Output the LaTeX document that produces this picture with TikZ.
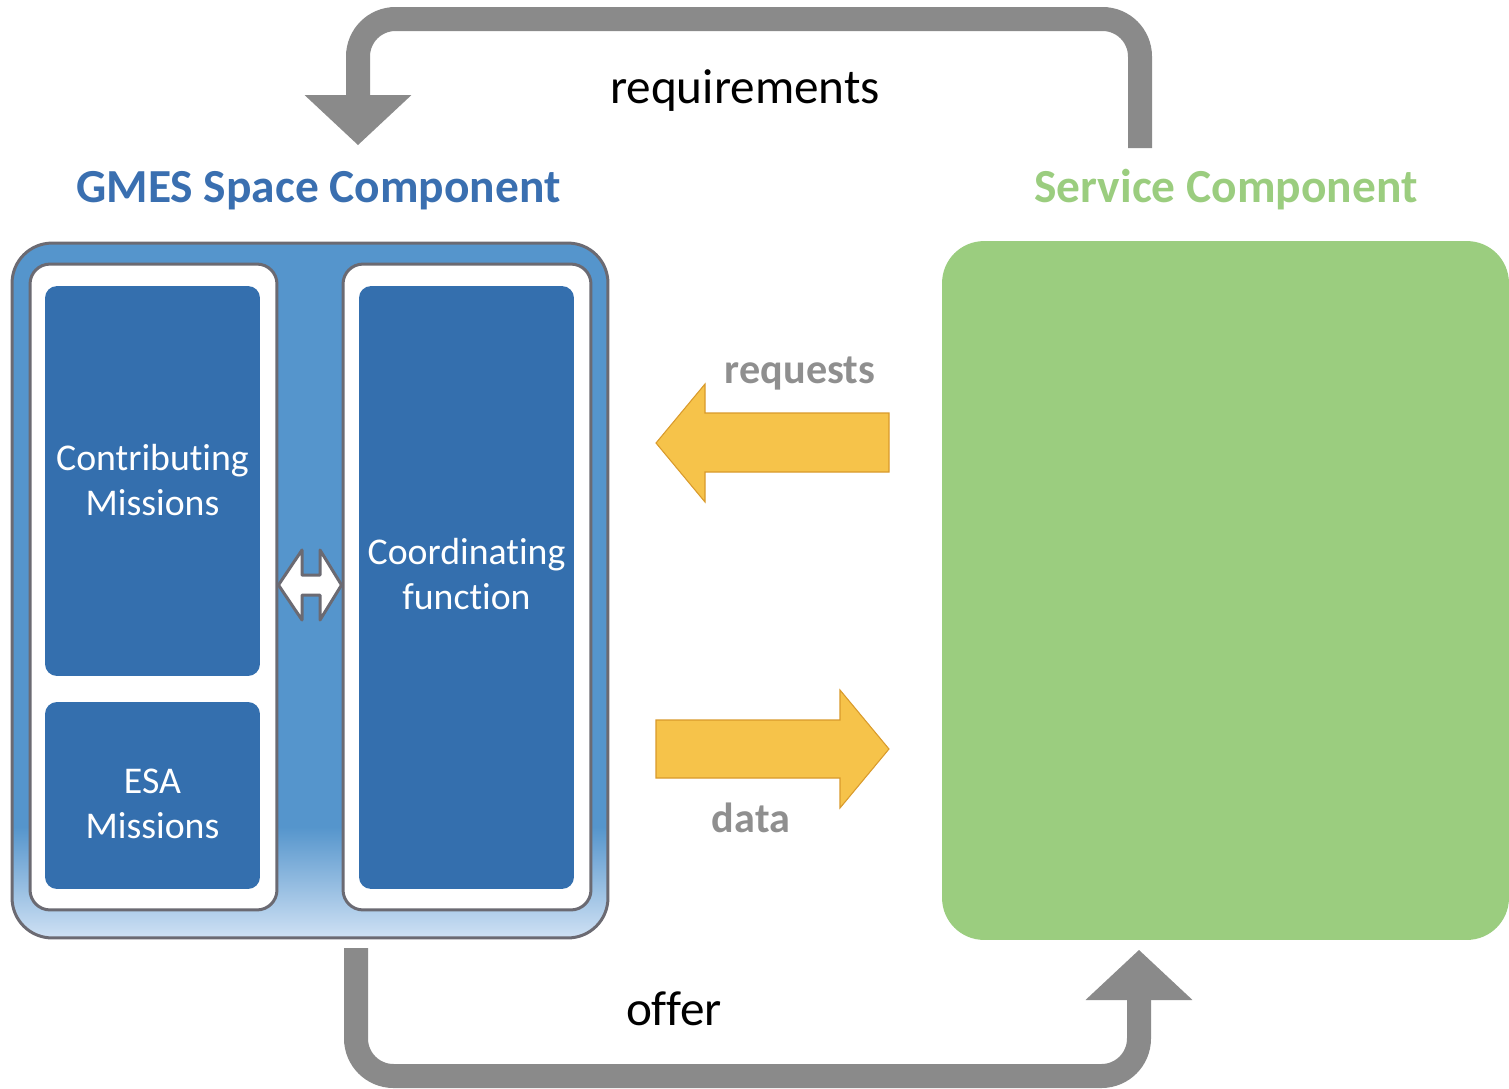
\documentclass[tikz,border=0pt]{standalone}
\usepackage{fontspec}
\setmainfont{Carlito}[Ligatures={NoCommon,NoContextual}]
\usetikzlibrary{positioning,arrows.meta}

\definecolor{framegray}{HTML}{6B6A72}
\definecolor{gmesmid}{HTML}{5595CC}
\definecolor{gmeslight}{HTML}{CFE1F4}
\definecolor{missionblue}{HTML}{346FAE}
\definecolor{gmestitle}{HTML}{3A6FB0}
\definecolor{servicegreen}{HTML}{9BCD7F}
\definecolor{loopgray}{HTML}{8A8A8A}
\definecolor{labelgray}{HTML}{8F8F8F}
\definecolor{flowyellow}{HTML}{F6C34A}
\definecolor{flowedge}{HTML}{D99A2B}

\pgfdeclareverticalshading{gmesshade}{100bp}{color(0bp)=(gmeslight); color(25bp)=(gmeslight); color(33bp)=(gmesmid); color(75bp)=(gmesmid); color(100bp)=(gmesmid)}

\newcommand{\missionfont}{\fontsize{21.5}{25.5}\selectfont}
\newcommand{\titlefont}{\fontsize{27}{32}\selectfont\bfseries}
\newcommand{\loopfont}{\fontsize{28}{32}\selectfont}
\newcommand{\flowfont}{\fontsize{24}{28}\selectfont\bfseries}

\tikzset{
  gmesbox/.style={draw=framegray, line width=0.06cm, rounded corners=0.8cm, shade, shading=gmesshade},
  panel/.style={draw=framegray, line width=0.06cm, fill=white, rounded corners=0.4cm},
  mission/.style={fill=missionblue, rounded corners=0.24cm, inner sep=0pt},
  missiontext/.style={text=white, font=\missionfont, align=center, inner sep=0pt},
  servicebox/.style={fill=servicegreen, rounded corners=0.84cm},
  title/.style={font=\titlefont, anchor=base},
  looplabel/.style={font=\loopfont, anchor=base},
  flowlabel/.style={font=\flowfont, text=labelgray, anchor=base},
  loop/.style={draw=loopgray, line width=0.48cm, rounded corners=0.75cm, -{Triangle[width=2.14cm,length=1cm,line width=0pt]}},
  flow/.style={fill=flowyellow, draw=flowedge, line width=0.6pt},
  swap/.style={fill=white, draw=framegray, line width=0.06cm, line join=round}
}

\begin{document}
\begin{tikzpicture}[x=0.02cm, y=-0.02cm]
\useasboundingbox (0,0) rectangle (1509,1089);

%Boxes
\node[gmesbox, minimum width=11.92cm, minimum height=13.9cm]   (gmes)    at (310,590.5) {};
\node[panel, minimum width=4.94cm, minimum height=12.92cm]     (lpanel)  at (153.5,587) {};
\node[panel, minimum width=4.96cm, minimum height=12.92cm]     (rpanel)  at (467,587) {};
\node[mission, minimum width=4.3cm, minimum height=7.8cm]      (contrib) at (152.5,481) {};
\node[mission, minimum width=4.3cm, minimum height=3.74cm]     (esa)     at (152.5,795.5) {};
\node[mission, minimum width=4.3cm, minimum height=12.06cm]    (coord)   at (466.5,587.5) {};
\node[servicebox, minimum width=11.34cm, minimum height=13.98cm] (service) at (1225.5,590.5) {};

%Box texts
\node[missiontext, yshift=0.02cm]  (contribtext) at (contrib) {Contributing\\Missions};
\node[missiontext, yshift=-0.16cm] (esatext)     at (esa)     {ESA\\Missions};
\node[missiontext, yshift=0.27cm]  (coordtext)   at (coord)   {Coordinating\\function};

%Titles
\node[title, text=gmestitle]    (gmestitle)    at (318.5,202) {GMES Space Component};
\node[title, text=servicegreen] (servicetitle) at (1226,202)  {Service Component};

%Labels
\node[looplabel] (requirements) at (745,103)  {requirements};
\node[looplabel] (offer)        at (674,1025) {offer};
\node[flowlabel] (requests)     at (800,383)  {requests};
\node[flowlabel] (data)         at (751,832)  {data};

%Loops
\coordinate (reqstart) at (1140,148);
\coordinate (reqend)   at (358,145);
\coordinate (offstart) at (356,948);
\coordinate (offend)   at (1139,950);
\draw[loop] (reqstart) -- (1140,19) -- (358,19) -- (reqend);
\draw[loop] (offstart) -- (356,1076) -- (1139,1076) -- (offend);

%Flows
\draw[flow] (889,413) -- (705,413) -- (705,384) -- (656,443) -- (705,502)
    -- (705,472) -- (889,472) -- cycle;
\draw[flow] (656,720) -- (840,720) -- (840,690) -- (889,749) -- (840,808)
    -- (840,778) -- (656,778) -- cycle;

%Exchange between the panels
\draw[swap] (lpanel.east |- 0,585) -- (302,550) -- (302,575) -- (320,575) -- (320,550)
    -- (rpanel.west |- 0,585) -- (320,620) -- (320,595) -- (302,595) -- (302,620) -- cycle;
\end{tikzpicture}
\end{document}
